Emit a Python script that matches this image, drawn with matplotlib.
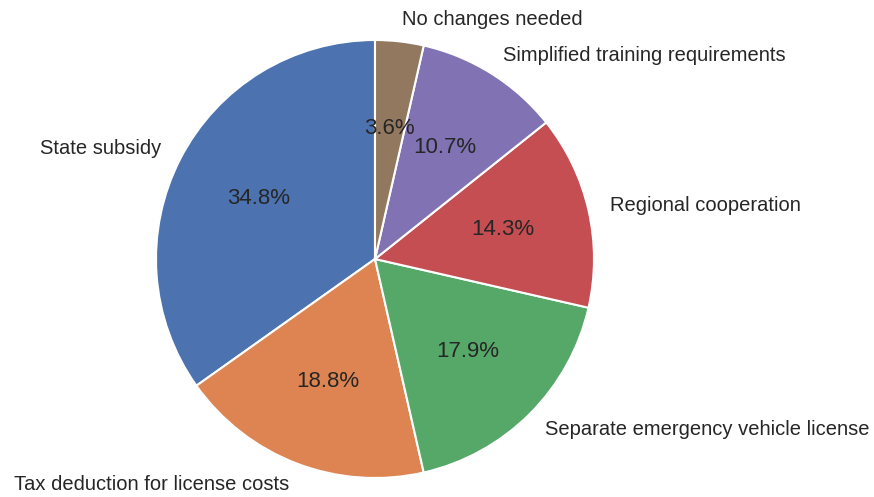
import matplotlib.pyplot as plt
import seaborn as sns

# survey answers (counts) and labels
labels = ['State subsidy', 'Tax deduction for license costs',
          'Separate emergency vehicle license', 'Regional cooperation',
          'Simplified training requirements', 'No changes needed']
counts = [39, 21, 20, 16, 12, 4]

sns.set_theme(style='white')
plt.rcParams['font.family'] = ['Liberation Sans', 'DejaVu Sans']
colors = sns.color_palette('deep', len(counts))

fig = plt.figure(figsize=(8.74, 4.97), dpi=100)
# pie centred at (375, 259) px with radius 219 px
cx, cy, r = 375, 259, 219
ax = fig.add_axes([(cx - r) / 874, (497 - cy - r) / 497, 2 * r / 874, 2 * r / 497])
wedges, texts, autotexts = ax.pie(
    counts, labels=labels, colors=colors, autopct='%1.1f%%', startangle=90,
    wedgeprops={'edgecolor': 'white', 'linewidth': 1.5},
    textprops={'fontsize': 14.5, 'color': '#262626'})
for t in autotexts:
    t.set_fontsize(16)
ax.set_xlim(-1, 1)
ax.set_ylim(-1, 1)
ax.set_aspect('equal')

plt.savefig('out.png', dpi=100)
